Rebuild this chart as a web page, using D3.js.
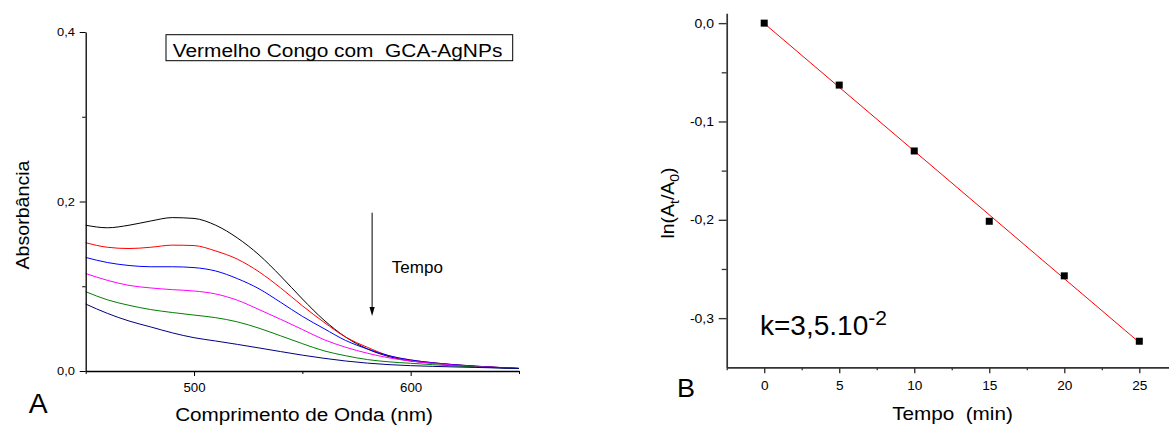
<!DOCTYPE html>
<html>
<head>
<meta charset="utf-8">
<script src="https://cdn.jsdelivr.net/npm/d3@7"></script>
<style>
  html, body { margin: 0; padding: 0; background: #fff; }
  svg { display: block; font-family: "Liberation Sans", Arial, Helvetica, sans-serif; }
  text { white-space: pre; }
</style>
</head>
<body>
<svg id="fig" width="1169" height="426"></svg>
<script>
// ---- Panel A: UV-Vis spectra of Congo red over time ----
const wavelength = [450, 460, 470, 480, 490, 500, 510, 520, 530, 540, 550,
                    560, 570, 580, 590, 600, 610, 620, 630, 640, 650];
const spectrum1 = [0.172, 0.169, 0.172, 0.177, 0.181, 0.180, 0.172, 0.157, 0.137, 0.112, 0.085,
                   0.060, 0.040, 0.026, 0.017, 0.0118, 0.0093, 0.0072, 0.0055, 0.0042, 0.003];
const spectrum2 = [0.1514, 0.146, 0.1445, 0.146, 0.1485, 0.148, 0.1416, 0.132, 0.117, 0.098, 0.077,
                   0.0575, 0.040, 0.028, 0.018, 0.013, 0.0098, 0.0075, 0.0057, 0.0043, 0.003];
const spectrum3 = [0.134, 0.128, 0.1245, 0.123, 0.123, 0.122, 0.118, 0.109, 0.097, 0.081, 0.0645,
                   0.050, 0.036, 0.026, 0.018, 0.013, 0.0098, 0.0075, 0.0057, 0.0043, 0.003];
const spectrum4 = [0.115, 0.107, 0.101, 0.098, 0.096, 0.0944, 0.0909, 0.0835, 0.0725, 0.061, 0.049,
                   0.037, 0.028, 0.021, 0.0155, 0.0118, 0.009, 0.0068, 0.0052, 0.004, 0.003];
const spectrum5 = [0.0936, 0.084, 0.0775, 0.0725, 0.069, 0.066, 0.0629, 0.058, 0.0505, 0.0415, 0.0323,
                   0.0238, 0.018, 0.0135, 0.0108, 0.0091, 0.0075, 0.006, 0.0048, 0.0038, 0.003];
const spectrum6 = [0.079, 0.068, 0.059, 0.052, 0.045, 0.0393, 0.0354, 0.0314, 0.0272, 0.0229, 0.0187,
                   0.015, 0.0118, 0.0093, 0.0075, 0.0063, 0.0055, 0.0048, 0.0042, 0.0036, 0.003];
const spectra = [spectrum1, spectrum2, spectrum3, spectrum4, spectrum5, spectrum6];
const spectraColors = ["#000000", "#ff0000", "#0000ff", "#ff00ff", "#008000", "#000080"];

const absTicks = [0, 0.2, 0.4];
const absMinorTicks = [0.1, 0.3];
const waveTicks = [500, 600];
const waveMinorTicks = [450, 550, 650];

// ---- Panel B: first-order kinetics ----
const tempo = [0, 5, 10, 15, 20, 25];
const lnRatio = [0, -0.063, -0.130, -0.2015, -0.257, -0.3235];

const lnTicks = [0, -0.1, -0.2, -0.3];
const lnMinorTicks = [-0.05, -0.15, -0.25];
const tempoTicks = [0, 5, 10, 15, 20, 25];
const tempoMinorTicks = [-2.5, 2.5, 7.5, 12.5, 17.5, 22.5];

const ptBR = d3.formatLocale({ decimal: ",", thousands: ".", grouping: [3], currency: ["R$", ""], minus: "-" });
const fmtDec = ptBR.format(".1f");

const svg = d3.select("#fig");
const FONT = '"Liberation Sans", Arial, Helvetica, sans-serif';

function label(parent, x, y, str, opts) {
  const o = Object.assign({ size: 14, stretch: 1, anchor: "start", rotate: 0 }, opts || {});
  return parent.append("text")
    .attr("transform", `translate(${x},${y}) rotate(${o.rotate}) scale(${o.stretch},1)`)
    .attr("text-anchor", o.anchor)
    .attr("fill", "#000")
    .style("font-family", FONT)
    .style("font-size", o.size + "px")
    .text(str);
}

function styleAxis(g, color, width, fontSize, stretch) {
  g.attr("font-family", null).attr("font-size", null);
  g.select(".domain").attr("stroke", color).attr("stroke-width", width);
  g.selectAll(".tick line").attr("stroke", color).attr("stroke-width", width * 0.8);
  g.selectAll(".tick text")
    .attr("fill", "#000")
    .style("font-family", FONT)
    .style("font-size", fontSize + "px")
    .each(function () {
      const t = d3.select(this);
      const x = +t.attr("x") || 0;
      t.attr("x", x / stretch).attr("transform", `scale(${stretch},1)`);
    });
}

// ================= Panel A =================
const xA = d3.scaleLinear().domain([450, 650]).range([85.7, 519]);
const yA = d3.scaleLinear().domain([0, 0.4]).range([371, 32]);

const gA = svg.append("g");

const line = d3.line()
  .x((d, i) => xA(wavelength[i]))
  .y(d => yA(d))
  .curve(d3.curveMonotoneX);

gA.append("g").selectAll("path")
  .data(spectra)
  .join("path")
  .attr("fill", "none")
  .attr("stroke", (d, i) => spectraColors[i])
  .attr("stroke-width", 1)
  .attr("d", line);

// minor ticks
gA.append("g").attr("transform", `translate(0,${yA(0)})`)
  .call(d3.axisBottom(xA).tickValues(waveMinorTicks).tickSize(3).tickFormat(""))
  .call(g => { g.select(".domain").remove(); g.selectAll("line").attr("stroke", "#000"); });
gA.append("g").attr("transform", `translate(${xA(450)},0)`)
  .call(d3.axisLeft(yA).tickValues(absMinorTicks).tickSize(3.5).tickFormat(""))
  .call(g => { g.select(".domain").remove(); g.selectAll("line").attr("stroke", "#000"); });

// major axes
gA.append("g").attr("transform", `translate(0,${yA(0)})`)
  .call(d3.axisBottom(xA).tickValues(waveTicks).tickSize(5).tickSizeOuter(0).tickPadding(7).tickFormat(d3.format("d")))
  .call(g => styleAxis(g, "#000", 1.3, 13, 1.02));
gA.append("g").attr("transform", `translate(${xA(450)},0)`)
  .call(d3.axisLeft(yA).tickValues(absTicks).tickSize(6).tickSizeOuter(0).tickPadding(4.7).tickFormat(fmtDec))
  .call(g => styleAxis(g, "#000", 1.3, 11.5, 1.12));

// legend box
gA.append("rect")
  .attr("x", 166).attr("y", 34.7).attr("width", 346.7).attr("height", 26)
  .attr("fill", "#fff").attr("stroke", "#000").attr("stroke-width", 1);
label(gA, 172.7, 56.5, "Vermelho Congo com  GCA-AgNPs", { size: 18.5, stretch: 1.13 });

// time arrow
const arrowX = xA(582.2);
const arrowTop = yA(0.1868), arrowTip = yA(0.0649);
gA.append("line")
  .attr("x1", arrowX).attr("x2", arrowX)
  .attr("y1", arrowTop).attr("y2", arrowTip - 6)
  .attr("stroke", "#000").attr("stroke-width", 1);
gA.append("path")
  .attr("d", `M${arrowX - 2.6},${arrowTip - 9}L${arrowX + 2.6},${arrowTip - 9}L${arrowX},${arrowTip}Z`)
  .attr("fill", "#000");
label(gA, xA(591.3), yA(0.116), "Tempo", { size: 17 });

// axis titles
label(gA, 304, 421, "Comprimento de Onda (nm)", { size: 18.5, stretch: 1.12, anchor: "middle" });
label(gA, 28.5, 215, "Absorbância", { size: 18.5, stretch: 1.06, anchor: "middle", rotate: -90 });
label(gA, 28.7, 413, "A", { size: 27, stretch: 1.05 });

// ================= Panel B =================
const xB = d3.scaleLinear().domain([-2.5, 27.5]).range([726.7, 1176.8]);
const yB = d3.scaleLinear().domain([-0.35, 0.01]).range([367.3, 13.3]);

const gB = svg.append("g");

// least-squares fit of ln(At/A0) vs t
const mx = d3.mean(tempo), my = d3.mean(lnRatio);
const sxy = d3.sum(tempo, (t, i) => (t - mx) * (lnRatio[i] - my));
const sxx = d3.sum(tempo, t => (t - mx) * (t - mx));
const slope = sxy / sxx, intercept = my - slope * mx;
const fitX = [d3.min(tempo), d3.max(tempo)];

gB.append("line")
  .attr("x1", xB(fitX[0])).attr("y1", yB(intercept + slope * fitX[0]))
  .attr("x2", xB(fitX[1])).attr("y2", yB(intercept + slope * fitX[1]))
  .attr("stroke", "#ff0000").attr("stroke-width", 1);

const sq = 7;
gB.append("g").selectAll("rect")
  .data(tempo)
  .join("rect")
  .attr("x", d => xB(d) - sq / 2)
  .attr("y", (d, i) => yB(lnRatio[i]) - sq / 2)
  .attr("width", sq).attr("height", sq)
  .attr("fill", "#000");

// minor ticks
gB.append("g").attr("transform", `translate(0,${yB(-0.35)})`)
  .call(d3.axisBottom(xB).tickValues(tempoMinorTicks).tickSize(3).tickFormat(""))
  .call(g => { g.select(".domain").remove(); g.selectAll("line").attr("stroke", "#333").attr("stroke-width", 1.3); });
gB.append("g").attr("transform", `translate(${xB(-2.5)},0)`)
  .call(d3.axisLeft(yB).tickValues(lnMinorTicks).tickSize(5).tickFormat(""))
  .call(g => { g.select(".domain").remove(); g.selectAll("line").attr("stroke", "#333").attr("stroke-width", 1.3); });

// major axes
gB.append("g").attr("transform", `translate(0,${yB(-0.35)})`)
  .call(d3.axisBottom(xB).tickValues(tempoTicks).tickSize(6).tickSizeOuter(0).tickPadding(7.5).tickFormat(d3.format("d")))
  .call(g => styleAxis(g, "#333", 1.7, 13, 1.05));
gB.append("g").attr("transform", `translate(${xB(-2.5)},0)`)
  .call(d3.axisLeft(yB).tickValues(lnTicks).tickSize(8).tickSizeOuter(0).tickPadding(4.7).tickFormat(fmtDec))
  .call(g => styleAxis(g, "#333", 1.7, 12.5, 1.12));

// rate constant annotation
const kText = label(gB, 760, 335, "k=3,5.10", { size: 28 });
kText.append("tspan").attr("dy", -10).style("font-size", "21px").text("-2");

// axis titles
label(gB, 952.5, 419.5, "Tempo  (min)", { size: 18, stretch: 1.15, anchor: "middle" });
const lnLabel = label(gB, 674, 203, "ln(A", { size: 18, stretch: 1.08, anchor: "middle", rotate: -90 });
lnLabel.append("tspan").attr("dy", 5).style("font-size", "13px").text("t");
lnLabel.append("tspan").attr("dy", -5).text("/A");
lnLabel.append("tspan").attr("dy", 5).style("font-size", "13px").text("0");
lnLabel.append("tspan").attr("dy", -5).text(")");
label(gB, 677, 397, "B", { size: 26.5, stretch: 1.02 });
</script>
</body>
</html>
